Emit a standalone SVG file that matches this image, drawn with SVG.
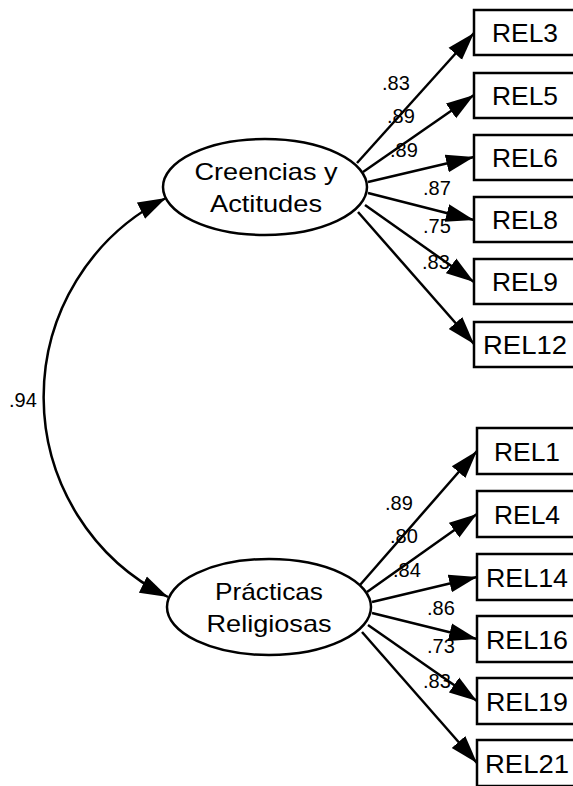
<svg xmlns="http://www.w3.org/2000/svg" width="573" height="786" viewBox="0 0 573 786">
<defs>
<marker id="ah" markerUnits="userSpaceOnUse" markerWidth="30" markerHeight="20" refX="28" refY="9" orient="auto-start-reverse" viewBox="0 0 30 18">
<path d="M0,0 L28,9 L0,18 Z" fill="#000"/>
</marker>
</defs>
<style>
.box{fill:#fff;stroke:#000;stroke-width:2.5}
.ell{fill:#fff;stroke:#000;stroke-width:2.5}
.bt{font-family:"Liberation Sans",Arial,sans-serif;font-size:25px;text-anchor:middle;fill:#000}
.et{font-family:"Liberation Sans",Arial,sans-serif;font-size:24px;text-anchor:middle;fill:#000}
.lb{font-family:"Liberation Sans",Arial,sans-serif;font-size:20px;fill:#000}
.ln{fill:none;stroke:#000;stroke-width:2.5;marker-end:url(#ah)}
</style>
<rect width="573" height="786" fill="#fff"/>
<g id="connectors">
<path class="ln" d="M357,163 L474,33"/>
<path class="ln" d="M363,172 L474,95"/>
<path class="ln" d="M368,182 L474,157"/>
<path class="ln" d="M368,193 L474,220"/>
<path class="ln" d="M365,205 L474,282"/>
<path class="ln" d="M358,212 L474,344"/>
<path class="ln" d="M360,585 L477,451"/>
<path class="ln" d="M367,592 L477,514"/>
<path class="ln" d="M372,602 L477,577"/>
<path class="ln" d="M372,613 L477,639"/>
<path class="ln" d="M368,625 L477,701"/>
<path class="ln" d="M362,632 L477,763"/>
<path d="M166,198 A223,223 0 0 0 168,597" fill="none" stroke="#000" stroke-width="2.5" marker-start="url(#ah)" marker-end="url(#ah)"/>
<text class="lb" x="9" y="407">.94</text>
<text class="lb" x="382" y="90">.83</text>
<text class="lb" x="387" y="123">.89</text>
<text class="lb" x="390" y="157">.89</text>
<text class="lb" x="423" y="195">.87</text>
<text class="lb" x="423" y="233">.75</text>
<text class="lb" x="422" y="269">.83</text>
<text class="lb" x="385" y="510">.89</text>
<text class="lb" x="390" y="543">.80</text>
<text class="lb" x="393" y="577">.84</text>
<text class="lb" x="427" y="615">.86</text>
<text class="lb" x="427" y="653">.73</text>
<text class="lb" x="423" y="688">.83</text>
</g>
<g id="F1"><ellipse class="ell" cx="265" cy="187" rx="102" ry="48"/><text class="et" x="266" y="180" textLength="143" lengthAdjust="spacingAndGlyphs">Creencias y</text><text class="et" x="266" y="212" textLength="112" lengthAdjust="spacingAndGlyphs">Actitudes</text></g>
<g id="F2"><ellipse class="ell" cx="269" cy="607" rx="102" ry="48"/><text class="et" x="269" y="600" textLength="108" lengthAdjust="spacingAndGlyphs">Prácticas</text><text class="et" x="269" y="632" textLength="125" lengthAdjust="spacingAndGlyphs">Religiosas</text></g>
<g id="REL3"><rect class="box" x="474" y="10" width="120" height="45"/><text class="bt" x="525" y="42" textLength="66" lengthAdjust="spacingAndGlyphs">REL3</text></g>
<g id="REL5"><rect class="box" x="474" y="73" width="120" height="45"/><text class="bt" x="525" y="105" textLength="66" lengthAdjust="spacingAndGlyphs">REL5</text></g>
<g id="REL6"><rect class="box" x="474" y="135" width="120" height="45"/><text class="bt" x="525" y="167" textLength="66" lengthAdjust="spacingAndGlyphs">REL6</text></g>
<g id="REL8"><rect class="box" x="474" y="197" width="120" height="45"/><text class="bt" x="525" y="229" textLength="66" lengthAdjust="spacingAndGlyphs">REL8</text></g>
<g id="REL9"><rect class="box" x="474" y="259" width="120" height="45"/><text class="bt" x="525" y="291" textLength="66" lengthAdjust="spacingAndGlyphs">REL9</text></g>
<g id="REL12"><rect class="box" x="474" y="322" width="120" height="45"/><text class="bt" x="525" y="354" textLength="84" lengthAdjust="spacingAndGlyphs">REL12</text></g>
<g id="REL1"><rect class="box" x="477" y="428" width="120" height="46"/><text class="bt" x="527" y="461" textLength="66" lengthAdjust="spacingAndGlyphs">REL1</text></g>
<g id="REL4"><rect class="box" x="477" y="491" width="120" height="46"/><text class="bt" x="527" y="524" textLength="66" lengthAdjust="spacingAndGlyphs">REL4</text></g>
<g id="REL14"><rect class="box" x="477" y="554" width="120" height="46"/><text class="bt" x="527" y="587" textLength="82" lengthAdjust="spacingAndGlyphs">REL14</text></g>
<g id="REL16"><rect class="box" x="477" y="616" width="120" height="46"/><text class="bt" x="527" y="649" textLength="82" lengthAdjust="spacingAndGlyphs">REL16</text></g>
<g id="REL19"><rect class="box" x="477" y="678" width="120" height="46"/><text class="bt" x="527" y="711" textLength="82" lengthAdjust="spacingAndGlyphs">REL19</text></g>
<g id="REL21"><rect class="box" x="477" y="740" width="120" height="46"/><text class="bt" x="527" y="773" textLength="84" lengthAdjust="spacingAndGlyphs">REL21</text></g>
</svg>
